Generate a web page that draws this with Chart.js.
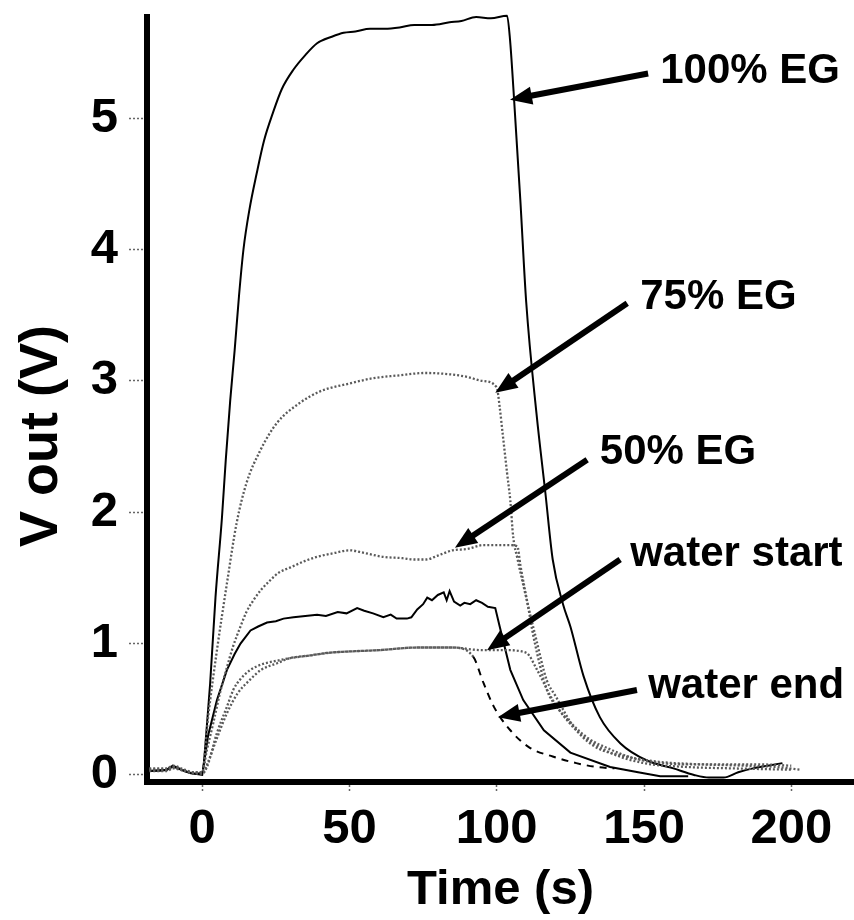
<!DOCTYPE html>
<html>
<head>
<meta charset="utf-8">
<script src="https://cdn.jsdelivr.net/npm/chart.js@4.4.1/dist/chart.umd.min.js"></script>
<style>
html,body{margin:0;padding:0;background:#fff;}
#wrap{width:854px;height:920px;position:relative;}
canvas{display:block;}
</style>
</head>
<body>
<div id="wrap"><canvas id="c" width="854" height="920"></canvas></div>
<script>
// ---------- data ----------
const xTicks = [0, 50, 100, 150, 200];
const yTicks = [0, 1, 2, 3, 4, 5];

const t100 = [-18,-12,-10,-6,-3,0,1.5,2.7,4.5,6.7,8,9.5,11,12.5,14,16,18.5,21,24,27,31,35,39,44,48,52,57,62,67,72,78,84,88,93,98,103.5,104.5,105.7,108,110,113.5,116.5,119,122.5,125,129.5,135,142,151,160,167,172,177,182,187,192,197];
const v100 = [0.03,0.04,0.06,0.03,0.01,0.02,0.35,0.7,1.35,1.96,2.4,2.85,3.23,3.65,4.0,4.3,4.58,4.83,5.04,5.22,5.37,5.48,5.57,5.62,5.65,5.66,5.68,5.68,5.69,5.71,5.71,5.73,5.74,5.77,5.76,5.78,5.6,5.21,4.38,3.6,2.75,2.15,1.64,1.3,1.13,0.75,0.44,0.24,0.11,0.05,0.0,-0.02,-0.02,0.02,0.05,0.07,0.09];

const t75 = [-18,-12,-10,-6,-3,0,2,5,8.4,11.7,15,19.7,25.4,33,40,50,58,66,76,84,90,95,100,101,102,103.5,104.6,105.6,107,110,113,117,120,126,133,144,155,170,185,195,203];
const v75 = [0.04,0.04,0.06,0.03,0.02,0.02,0.44,0.95,1.46,1.92,2.22,2.47,2.68,2.83,2.92,2.98,3.02,3.04,3.06,3.05,3.03,3.0,2.95,2.8,2.6,2.3,2.09,1.81,1.65,1.35,1.07,0.72,0.6,0.37,0.22,0.14,0.1,0.08,0.07,0.06,0.04];

const t50 = [-18,-12,-10,-6,-3,0,1.5,3.8,6,8.4,10.5,13,15,17.4,20,23,26,30,35,39,45,50,55,61.5,68,72,76,80,85,90,95.5,100,104,107,108,110.5,112.5,117,121,125,131,138,146,156,168,180,190,200];
const v50 = [0.05,0.05,0.07,0.04,0.02,0.02,0.18,0.4,0.62,0.82,0.98,1.13,1.24,1.33,1.41,1.48,1.54,1.58,1.63,1.66,1.69,1.71,1.69,1.66,1.65,1.64,1.64,1.67,1.71,1.72,1.75,1.75,1.75,1.74,1.6,1.3,1.05,0.65,0.5,0.4,0.28,0.2,0.13,0.09,0.08,0.08,0.08,0.07];

const tMid = [-18,-12,-10,-6,-3,0,2,5,8.4,11,13,16.4,19,22,25,27.6,31,35,39,42,46,49,52.6,55,58,61.5,64,66,69.5,71,73,75,76.4,78,80,82,83,84,85.5,87.6,89,91,93,95,97,99.5,101,104.6,109,116,125,138.5,148,155.5,165];
const vMid = [0.03,0.04,0.07,0.03,0.01,0.0,0.3,0.57,0.8,0.92,1.0,1.1,1.13,1.16,1.17,1.19,1.2,1.21,1.22,1.21,1.24,1.23,1.27,1.25,1.23,1.2,1.22,1.19,1.19,1.2,1.26,1.3,1.35,1.33,1.37,1.39,1.33,1.40,1.32,1.29,1.31,1.30,1.33,1.31,1.28,1.27,1.13,0.8,0.57,0.34,0.17,0.06,0.02,-0.01,-0.01];

const tStart = [-18,-12,-10,-6,-3,0,1.6,5,8.4,10.6,13,16.4,20,25.4,30,36.7,43,50,60,73,85,95,103,110,113.7,119,127,138.5,150,165,180,200];
const vStart = [0.04,0.04,0.06,0.03,0.02,0.01,0.06,0.32,0.52,0.65,0.73,0.8,0.84,0.87,0.89,0.91,0.93,0.94,0.95,0.97,0.97,0.95,0.95,0.93,0.8,0.57,0.34,0.17,0.09,0.06,0.05,0.04];

const tEnd = [-18,-12,-10,-6,-3,0,2,5,8.4,12,16,20,25.4,30,36.7,43,50,60,73,85,92,95.5,99,104.6,111,119,127,134,140];
const vEnd = [0.03,0.03,0.05,0.03,0.01,0.01,0.1,0.28,0.47,0.62,0.72,0.8,0.85,0.89,0.91,0.93,0.94,0.95,0.97,0.97,0.9,0.7,0.52,0.34,0.21,0.14,0.09,0.06,0.05];
const dashStartT = 92;

// ---------- annotations (data coordinates) ----------
const annLabels = ['100% EG', '75% EG', '50% EG', 'water start', 'water end'];
const annTextX  = [155.5, 148.7, 135.0, 145.3, 151.4];
const annTextY  = [5.27, 3.55, 2.37, 1.59, 0.586];
const arrFromX  = [151.4, 144.3, 130.7, 141.9, 147.6];
const arrFromY  = [5.34, 3.59, 2.40, 1.64, 0.647];
const arrToX    = [104.5, 99.5, 85.8, 96.7, 100.4];
const arrToY    = [5.14, 2.91, 1.73, 0.95, 0.44];

// ---------- build ----------
const FAM = "'Liberation Sans', Arial, Helvetica, sans-serif";
const pts = (t, v) => t.map((x, i) => ({x: x, y: v[i]}));
const GRAY = '#5a5a5a';

const solid = {borderColor:'#000', borderWidth:2, borderDash:[], tension:0, pointRadius:0, fill:false, clip:false};
const dotted = {borderColor:GRAY, borderWidth:2.3, borderDash:[2,2], cubicInterpolationMode:'monotone', pointRadius:0, fill:false, clip:false};

const datasets = [
  Object.assign({label:'water start', data: pts(tStart, vStart)}, dotted),
  Object.assign({label:'water end', data: pts(tEnd, vEnd), segment: {
      borderColor: c => c.p0.parsed.x >= dashStartT ? '#000' : GRAY,
      borderDash: c => c.p0.parsed.x >= dashStartT ? [7,6] : [2,2],
      borderWidth: c => c.p0.parsed.x >= dashStartT ? 2 : 2.3
  }}, dotted),
  Object.assign({label:'50% EG', data: pts(t50, v50)}, dotted),
  Object.assign({label:'75% EG', data: pts(t75, v75)}, dotted),
  Object.assign({label:'unlabeled trace', data: pts(tMid, vMid)}, solid),
  Object.assign({label:'100% EG', data: pts(t100, v100)}, solid, {cubicInterpolationMode:'monotone'})
];

const annotPlugin = {
  id: 'annot',
  afterDraw(chart) {
    const ctx = chart.ctx, xs = chart.scales.x, ys = chart.scales.y;
    ctx.save();
    // y axis title
    ctx.save();
    ctx.translate(57, 436);
    ctx.rotate(-Math.PI / 2);
    ctx.font = 'bold 54px ' + FAM;
    ctx.fillStyle = '#000';
    ctx.textAlign = 'center';
    ctx.textBaseline = 'alphabetic';
    ctx.fillText('V out (V)', 0, 0);
    ctx.restore();

    ctx.font = 'bold 42px ' + FAM;
    ctx.fillStyle = '#000';
    ctx.strokeStyle = '#000';
    ctx.textAlign = 'left';
    ctx.textBaseline = 'alphabetic';
    for (let i = 0; i < annLabels.length; i++) {
      ctx.fillText(annLabels[i], xs.getPixelForValue(annTextX[i]), ys.getPixelForValue(annTextY[i]));
      const x1 = xs.getPixelForValue(arrFromX[i]), y1 = ys.getPixelForValue(arrFromY[i]);
      const x2 = xs.getPixelForValue(arrToX[i]),   y2 = ys.getPixelForValue(arrToY[i]);
      const ang = Math.atan2(y2 - y1, x2 - x1);
      const hl = 22, hw = 9;
      const bx = x2 - hl * Math.cos(ang), by = y2 - hl * Math.sin(ang);
      ctx.lineWidth = 6;
      ctx.lineCap = 'butt';
      ctx.beginPath(); ctx.moveTo(x1, y1); ctx.lineTo(bx + 2*Math.cos(ang), by + 2*Math.sin(ang)); ctx.stroke();
      ctx.beginPath();
      ctx.moveTo(x2, y2);
      ctx.lineTo(bx + hw * Math.sin(ang), by - hw * Math.cos(ang));
      ctx.lineTo(bx - hw * Math.sin(ang), by + hw * Math.cos(ang));
      ctx.closePath(); ctx.fill();
    }
    ctx.restore();
  }
};

new Chart(document.getElementById('c'), {
  type: 'line',
  data: { datasets: datasets },
  plugins: [annotPlugin],
  options: {
    responsive: false,
    animation: false,
    devicePixelRatio: 1,
    layout: { padding: {top: 17, left: 0, right: 0, bottom: 0} },
    plugins: { legend: {display:false}, tooltip: {enabled:false}, title: {display:false} },
    scales: {
      x: {
        type: 'linear', position: 'bottom', min: -18.75, max: 221.3,
        afterBuildTicks: s => { s.ticks = xTicks.map(v => ({value: v})); },
        afterFit: s => { s.height = 138.5; s.paddingLeft = 0; s.paddingRight = 0; },
        ticks: { color:'#000', font:{family:FAM, size:49, weight:'bold'}, padding: 9, maxRotation:0, autoSkip:false },
        grid: { drawOnChartArea:false, drawTicks:true, tickLength:10, tickColor:'#666', tickWidth:1.5, tickBorderDash:[2,2] },
        border: { display:true, color:'#000', width:6 },
        title: { display:true, text:'Time (s)', color:'#000', font:{family:FAM, size:49, weight:'bold'}, padding:{top:0, bottom:0} }
      },
      y: {
        type: 'linear', min: -0.05, max: 5.77,
        afterBuildTicks: s => { s.ticks = yTicks.map(v => ({value: v})); },
        afterFit: s => { s.width = 147; s.paddingTop = 0; s.paddingBottom = 0; },
        ticks: { color:'#000', font:{family:FAM, size:49, weight:'bold'}, padding: 11 },
        grid: { drawOnChartArea:false, drawTicks:true, tickLength:18, tickColor:'#666', tickWidth:1.5, tickBorderDash:[2,2] },
        border: { display:true, color:'#000', width:6 }
      }
    }
  }
});
</script>
</body>
</html>
